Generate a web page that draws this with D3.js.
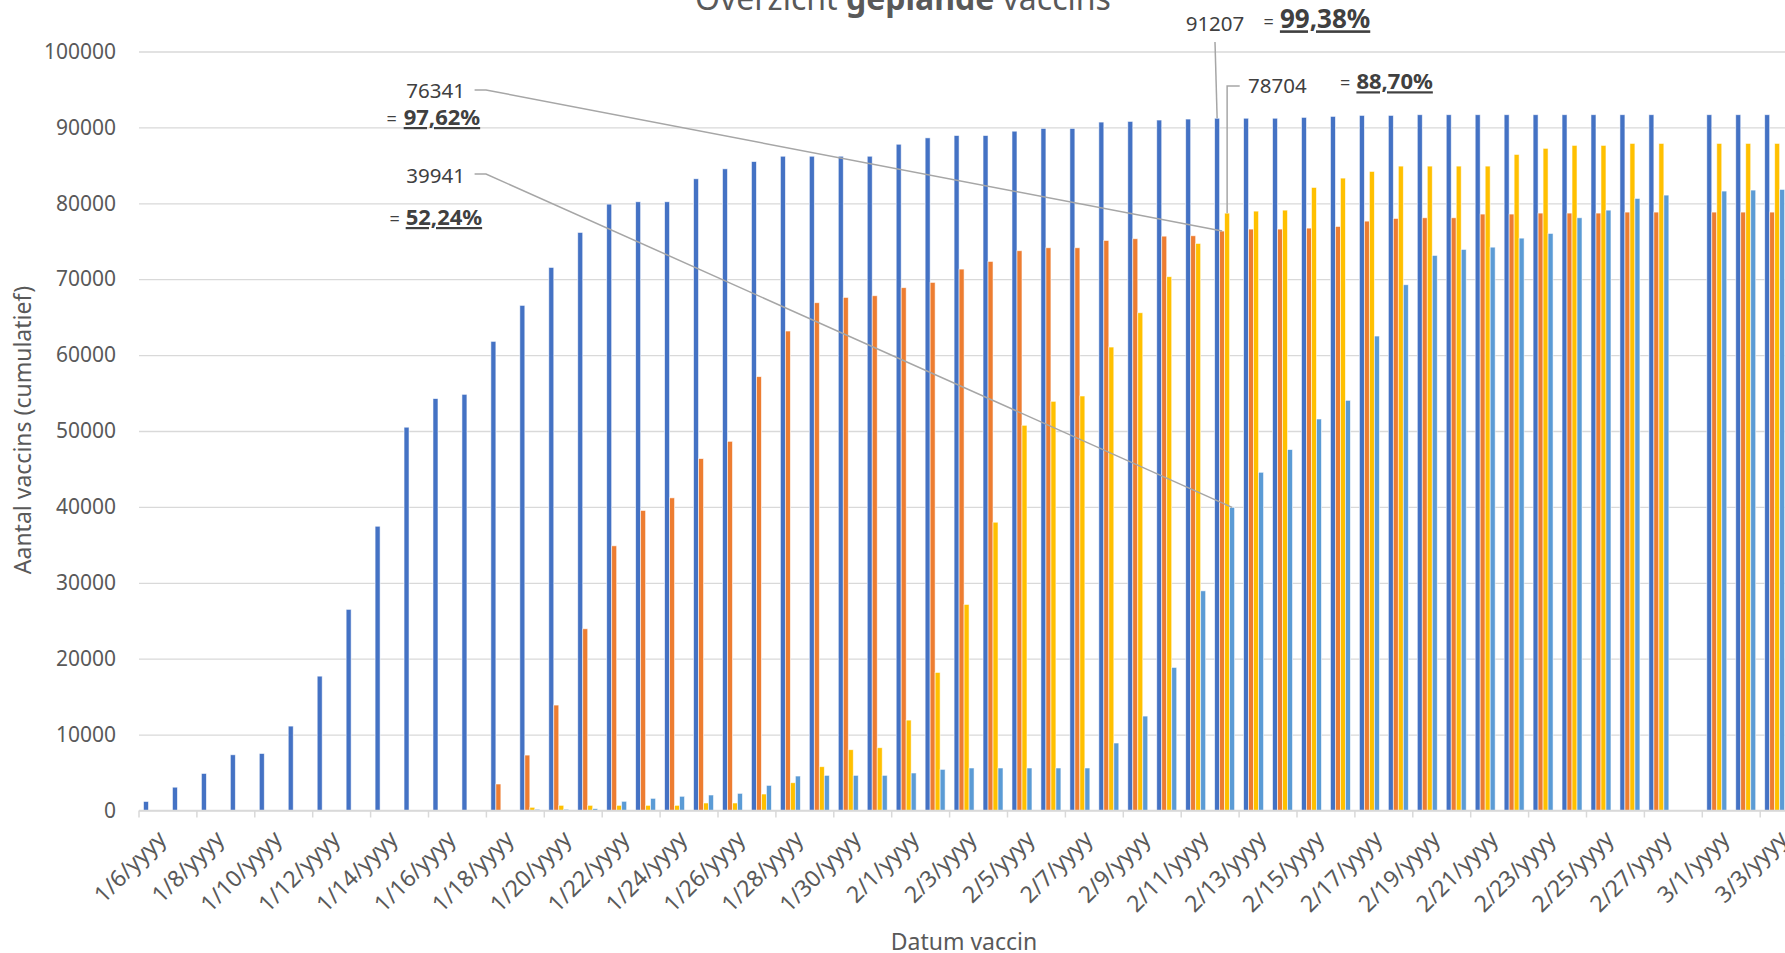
<!DOCTYPE html>
<html>
<head>
<meta charset="utf-8">
<script src="https://cdn.jsdelivr.net/npm/d3@7"></script>
<style>
  body { margin: 0; background: #fff; }
  svg { display: block; font-family: "Noto Sans", sans-serif; }
</style>
</head>
<body>
<div id="chart"></div>
<script>
// dagen op de as (2/28 zonder data)
const dates = [
  "1/6/yyyy", "1/7/yyyy", "1/8/yyyy", "1/9/yyyy", "1/10/yyyy", "1/11/yyyy", "1/12/yyyy", "1/13/yyyy",
  "1/14/yyyy", "1/15/yyyy", "1/16/yyyy", "1/17/yyyy", "1/18/yyyy", "1/19/yyyy", "1/20/yyyy", "1/21/yyyy",
  "1/22/yyyy", "1/23/yyyy", "1/24/yyyy", "1/25/yyyy", "1/26/yyyy", "1/27/yyyy", "1/28/yyyy", "1/29/yyyy",
  "1/30/yyyy", "1/31/yyyy",
  "2/1/yyyy", "2/2/yyyy", "2/3/yyyy", "2/4/yyyy", "2/5/yyyy", "2/6/yyyy", "2/7/yyyy", "2/8/yyyy",
  "2/9/yyyy", "2/10/yyyy", "2/11/yyyy", "2/12/yyyy", "2/13/yyyy", "2/14/yyyy", "2/15/yyyy", "2/16/yyyy",
  "2/17/yyyy", "2/18/yyyy", "2/19/yyyy", "2/20/yyyy", "2/21/yyyy", "2/22/yyyy", "2/23/yyyy", "2/24/yyyy",
  "2/25/yyyy", "2/26/yyyy", "2/27/yyyy", "2/28/yyyy",
  "3/1/yyyy", "3/2/yyyy", "3/3/yyyy"
]

const blauw = [
  1190, 3070, 4880, 7340, 7510, 11120, 17700, 26500, 37450, 50500, 54270, 54830, 61810, 66550, 71550, 76160,
  79890, 80200, 80200, 83230, 84540, 85500, 86200, 86200, 86200, 86200,
  87780, 88620, 88930, 88930, 89500, 89870, 89870, 90700, 90790, 90970, 91100, 91207, 91207, 91207, 91320, 91450,
  91580, 91580, 91670, 91670, 91670, 91670, 91670, 91670, 91670, 91670, 91670, null,
  91670, 91670, 91670
]

const oranje = [
  null, null, null, null, null, null, null, null, null, null, null, null, 3490, 7300, 13890, 23940,
  34870, 39530, 41190, 46360, 48640, 57160, 63170, 66900, 67600, 67820,
  68880, 69580, 71330, 72340, 73750, 74140, 74140, 75100, 75330, 75670, 75720, 76341, 76600, 76600, 76730, 76950,
  77650, 78000, 78090, 78090, 78580, 78580, 78710, 78710, 78710, 78840, 78840, null,
  78840, 78840, 78840
]

const geel = [
  null, null, null, null, null, null, null, null, null, null, null, null, null, 420, 680, 680,
  680, 680, 680, 990, 990, 2170, 3660, 5770, 8010, 8270,
  11910, 18190, 27150, 37980, 50750, 53910, 54610, 61060, 65580, 70330, 74710, 78704, 78970, 79100, 82090, 83320,
  84200, 84900, 84900, 84900, 84900, 86440, 87240, 87630, 87630, 87890, 87890, null,
  87890, 87890, 87890
]

const lichtblauw = [
  null, null, null, null, null, null, null, null, null, null, null, null, null, 160, 160, 240,
  1210, 1600, 1870, 2040, 2260, 3310, 4540, 4630, 4630, 4630,
  4940, 5420, 5600, 5600, 5600, 5600, 5600, 8890, 12440, 18850, 28940, 39941, 44560, 47550, 51580, 54040,
  62510, 69270, 73130, 73920, 74220, 75410, 76030, 78090, 79100, 80640, 81080, null,
  81610, 81740, 81830
]

const reeksen = [blauw, oranje, geel, lichtblauw]
const kleuren = ["#4472C4", "#ED7D31", "#FFC000", "#5B9BD5"]
const yTicks = [0, 10000, 20000, 30000, 40000, 50000, 60000, 70000, 80000, 90000, 100000]

// callouts: reeks-index, datum, waarde, percentage
const callouts = [
  { s: 1, date: "2/12/yyyy", value: 76341, pct: "97,62%" },
  { s: 3, date: "2/12/yyyy", value: 39941, pct: "52,24%" },
  { s: 0, date: "2/12/yyyy", value: 91207, pct: "99,38%" },
  { s: 2, date: "2/12/yyyy", value: 78704, pct: "88,70%" }
]

const W = 1785, H = 953
const X0 = 139, STEP = 28.95
const TXT = "#595959"

const svg = d3.select("#chart")
  .append("svg")
    .attr("width", W)
    .attr("height", H)
    .style("background", "#fff")

const x = d3.scaleBand()
  .domain(dates)
  .range([X0, X0 + STEP * dates.length])
  .paddingInner(0.31)
  .paddingOuter(0.155)

const xs = d3.scaleBand()
  .domain(d3.range(reeksen.length))
  .range([0, x.bandwidth()])

const y = d3.scaleLinear()
  .domain([0, 100000])
  .range([810.5, 51.5])

// gridlijnen + y-labels
svg.append("g")
  .attr("transform", `translate(${X0},0)`)
  .call(d3.axisLeft(y).tickValues(yTicks).tickSize(-(W - X0)).tickPadding(23).tickFormat(d => d))
  .call(g => g.select(".domain").remove())
  .call(g => g.selectAll(".tick line").attr("stroke", "#d9d9d9").attr("stroke-width", 1.3))
  .call(g => g.selectAll(".tick text")
    .attr("fill", TXT)
    .attr("font-size", 21)
    .attr("font-family", "Noto Sans, sans-serif"))

// staven
reeksen.forEach((vals, s) => {
  svg.append("g")
    .selectAll("rect")
    .data(dates.map((d, i) => ({ d, v: vals[i] })).filter(e => e.v != null))
    .join("rect")
      .attr("x", e => x(e.d) + xs(s))
      .attr("y", e => y(e.v))
      .attr("width", xs.bandwidth())
      .attr("height", e => y(0) - y(e.v))
      .attr("fill", kleuren[s])
      .attr("stroke", "#fff")
      .attr("stroke-opacity", 0.7)
      .attr("stroke-width", 0.8)
})

// x-as
const catStart = d => x(d) - x.step() * x.paddingOuter()
const xAs = svg.append("g")
xAs.append("line")
  .attr("x1", X0).attr("x2", W)
  .attr("y1", y(0)).attr("y2", y(0))
  .attr("stroke", "#d9d9d9")
  .attr("stroke-width", 1.5)

const labelDates = dates.filter((d, i) => i % 2 === 0)

xAs.selectAll(".xtick")
  .data(labelDates)
  .join("line")
    .attr("class", "xtick")
    .attr("x1", d => catStart(d)).attr("x2", d => catStart(d))
    .attr("y1", y(0)).attr("y2", y(0) + 7)
    .attr("stroke", "#d9d9d9")
    .attr("stroke-width", 1.5)

xAs.selectAll(".xlabel")
  .data(labelDates)
  .join("text")
    .attr("class", "xlabel")
    .attr("transform", d => `translate(${x(d) + x.bandwidth() / 2 + 7.7},834) rotate(-45)`)
    .attr("text-anchor", "end")
    .attr("dominant-baseline", "central")
    .attr("font-size", 23)
    .attr("fill", TXT)
    .text(d => d)

// titels
svg.append("text")
  .attr("x", 903)
  .attr("y", 10)
  .attr("text-anchor", "middle")
  .attr("font-size", 32)
  .attr("fill", TXT)
  .call(t => {
    t.append("tspan").text("Overzicht ")
    t.append("tspan").attr("font-weight", "bold").text("geplande")
    t.append("tspan").text(" vaccins")
  })

svg.append("text")
  .attr("transform", "translate(22,430) rotate(-90)")
  .attr("text-anchor", "middle")
  .attr("dominant-baseline", "central")
  .attr("font-size", 23)
  .attr("fill", TXT)
  .text("Aantal vaccins (cumulatief)")

svg.append("text")
  .attr("x", 964)
  .attr("y", 950)
  .attr("text-anchor", "middle")
  .attr("font-size", 23)
  .attr("fill", TXT)
  .text("Datum vaccin")

// callouts (plaats van de labels)
const calloutLayout = [
  { tx: 465, ty: 97.7, anchor: "end", path: [[474.6, 90], [486, 90]], eqX: 386.5, pctX: 403.7, pctY: 125, pctSize: 22 },
  { tx: 465, ty: 182.7, anchor: "end", path: [[474.6, 174], [486, 174]], eqX: 389.6, pctX: 405.7, pctY: 225, pctSize: 22 },
  { tx: 1244.3, ty: 30.7, anchor: "end", path: [[1215, 42]], eqX: 1263.5, pctX: 1279.9, pctY: 28.3, pctSize: 26 },
  { tx: 1248, ty: 93.3, anchor: "start", path: [[1239.7, 86]], vertical: true, eqX: 1340, pctX: 1356.4, pctY: 89.3, pctSize: 22 }
]

const ann = svg.append("g")
callouts.forEach((c, i) => {
  const l = calloutLayout[i]
  const bx = x(c.date) + xs(c.s) + xs.bandwidth() / 2
  const by = y(c.value)
  const pts = l.path.slice()
  if (l.vertical) pts.push([bx, l.path[0][1]])
  pts.push([bx, by])

  ann.append("path")
    .attr("d", d3.line()(pts))
    .attr("fill", "none")
    .attr("stroke", "#a6a6a6")
    .attr("stroke-width", 1.5)

  ann.append("text")
    .attr("x", l.tx).attr("y", l.ty)
    .attr("text-anchor", l.anchor)
    .attr("font-size", 20.5)
    .attr("fill", "#404040")
    .text(c.value)

  ann.append("text")
    .attr("x", l.eqX).attr("y", l.pctY)
    .attr("font-size", 18)
    .attr("fill", "#404040")
    .text("=")

  ann.append("text")
    .attr("x", l.pctX).attr("y", l.pctY)
    .attr("font-size", l.pctSize)
    .attr("font-weight", "bold")
    .attr("fill", "#404040")
    .attr("text-decoration", "underline")
    .text(c.pct)
})
</script>
</body>
</html>
